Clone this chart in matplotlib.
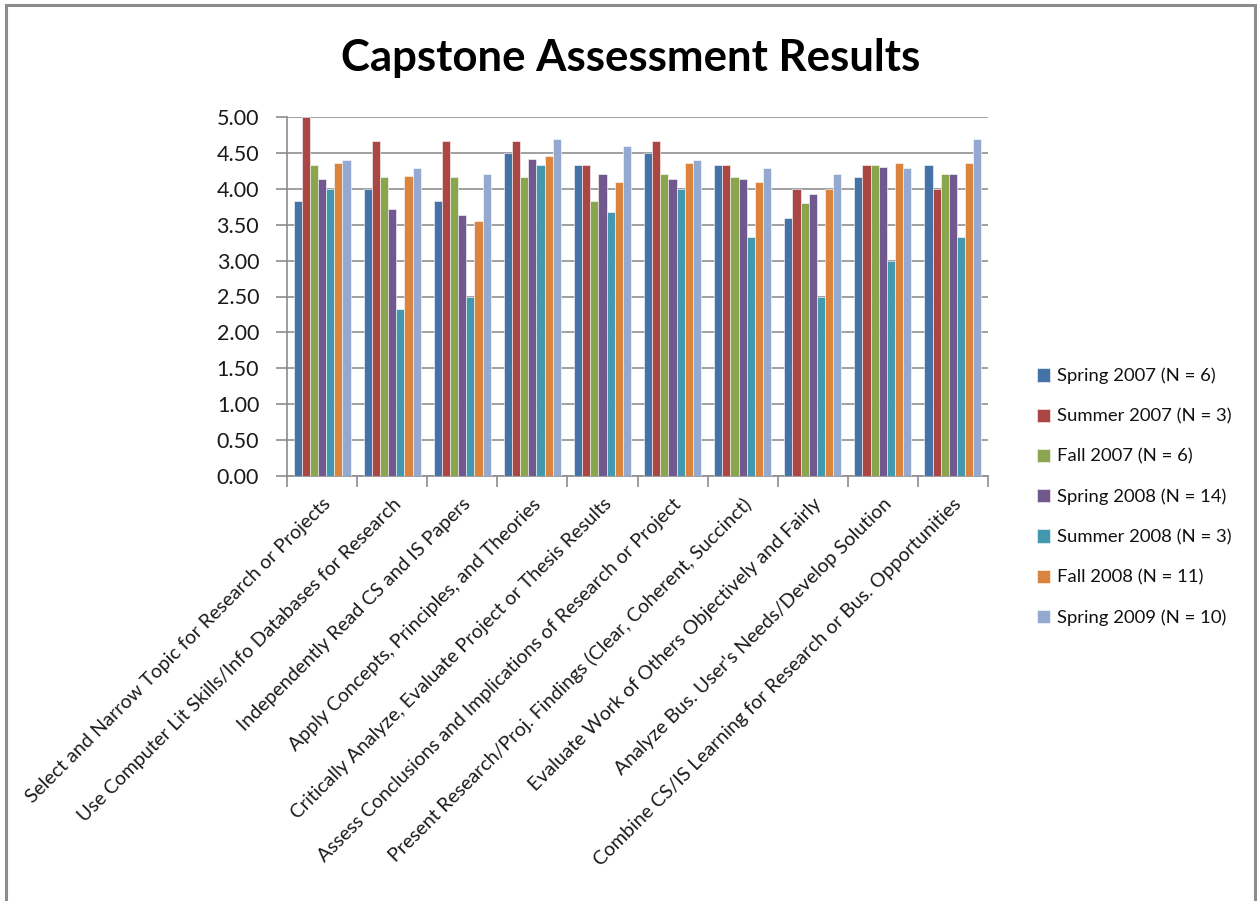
import matplotlib
matplotlib.use("Agg")
import matplotlib.pyplot as plt
import numpy as np
from matplotlib.patches import Rectangle

plt.rcParams['font.family'] = ['Lato', 'DejaVu Sans']

categories = [
    "Select and Narrow Topic for Research or Projects",
    "Use Computer Lit Skills/Info Databases for Research",
    "Independently Read CS and IS Papers",
    "Apply Concepts, Principles, and Theories",
    "Critically Analyze, Evaluate Project or Thesis Results",
    "Assess Conclusions and Implications of Research or Project",
    "Present Research/Proj. Findings (Clear, Coherent, Succinct)",
    "Evaluate Work of Others Objectively and Fairly",
    "Analyze Bus. User's Needs/Develop Solution",
    "Combine CS/IS Learning for Research or Bus. Opportunities",
]

series_names = [
    "Spring 2007 (N = 6)",
    "Summer 2007 (N = 3)",
    "Fall 2007 (N = 6)",
    "Spring 2008 (N = 14)",
    "Summer 2008 (N = 3)",
    "Fall 2008 (N = 11)",
    "Spring 2009 (N = 10)",
]

spring_2007 = [3.83, 4.00, 3.83, 4.50, 4.33, 4.50, 4.33, 3.60, 4.17, 4.33]
summer_2007 = [5.00, 4.67, 4.67, 4.67, 4.33, 4.67, 4.33, 4.00, 4.33, 4.00]
fall_2007   = [4.33, 4.17, 4.17, 4.17, 3.83, 4.20, 4.17, 3.80, 4.33, 4.20]
spring_2008 = [4.14, 3.72, 3.64, 4.42, 4.21, 4.14, 4.14, 3.93, 4.31, 4.21]
summer_2008 = [4.00, 2.33, 2.50, 4.33, 3.67, 4.00, 3.33, 2.50, 3.00, 3.33]
fall_2008   = [4.36, 4.18, 3.55, 4.45, 4.09, 4.36, 4.09, 4.00, 4.36, 4.36]
spring_2009 = [4.40, 4.29, 4.20, 4.70, 4.60, 4.40, 4.29, 4.21, 4.29, 4.70]

y_ticks = [0.0, 0.5, 1.0, 1.5, 2.0, 2.5, 3.0, 3.5, 4.0, 4.5, 5.0]

colors = ['#4572A7', '#AA4643', '#89A54E', '#71588F', '#4198AF', '#DB843D', '#93A9CF']

data = [spring_2007, summer_2007, fall_2007, spring_2008, summer_2008, fall_2008, spring_2009]

W, H = 1257, 901
fig = plt.figure(figsize=(W / 100, H / 100), dpi=100)

# outer frame
fig.patches.append(Rectangle((6 / W, -0.01), (1255 - 6) / W, 1.01 - 5 / H,
                             transform=fig.transFigure, fill=False,
                             edgecolor='#8c8c8c', linewidth=2.2))

ax = fig.add_axes([287 / W, 1 - 476 / H, (988 - 287) / W, (476 - 117) / H])

n = len(categories)
k = len(data)
bw = 1 / 8.6
x = np.arange(n)
handles = []
for i, (vals, c) in enumerate(zip(data, colors)):
    offs = (i - (k - 1) / 2) * bw
    b = ax.bar(x + offs, vals, width=bw, color=c, edgecolor='white', linewidth=0.4,
               label=series_names[i], zorder=3)
    handles.append(b)

ax.set_xlim(-0.5, n - 0.5)
ax.set_ylim(0, 5)
ax.set_yticks(y_ticks)
ax.set_yticklabels([f"{v:.2f}" for v in y_ticks], fontsize=15.5, color='#1a1a1a')
ax.yaxis.grid(True, color='#a0a0a0', linewidth=1.4, zorder=0)
ax.set_axisbelow(True)
for s in ['top', 'right']:
    ax.spines[s].set_visible(False)
for s in ['left', 'bottom']:
    ax.spines[s].set_color('#8c8c8c')
    ax.spines[s].set_linewidth(1.2)
ax.tick_params(axis='y', length=8, width=1.2, color='#8c8c8c', pad=12, direction='out')

# category ticks at boundaries
ax.set_xticks(np.arange(n + 1) - 0.5, minor=False)
ax.set_xticklabels([])
ax.tick_params(axis='x', length=8, width=1.2, color='#8c8c8c', direction='out')
ax.set_xticks(x, minor=True)
ax.set_xticklabels(categories, minor=True, rotation=45, ha='right', rotation_mode='anchor',
                   fontsize=14, color='#1a1a1a')
ax.tick_params(axis='x', which='minor', length=0, pad=14)

fig.text(631 / W, 1 - 58 / H, "Capstone Assessment Results", ha='center', va='center',
         fontsize=31.5, fontweight='bold', color='black')

leg = fig.legend(handles=handles, labels=series_names, loc='center left',
                 bbox_to_anchor=(1020 / W, 1 - 497 / H), frameon=False,
                 fontsize=13.3, labelspacing=1.3, handlelength=0.72, handleheight=0.72,
                 handletextpad=0.4)
for t in leg.get_texts():
    t.set_color('#111111')

fig.savefig("out.png", dpi=100, facecolor='white')
